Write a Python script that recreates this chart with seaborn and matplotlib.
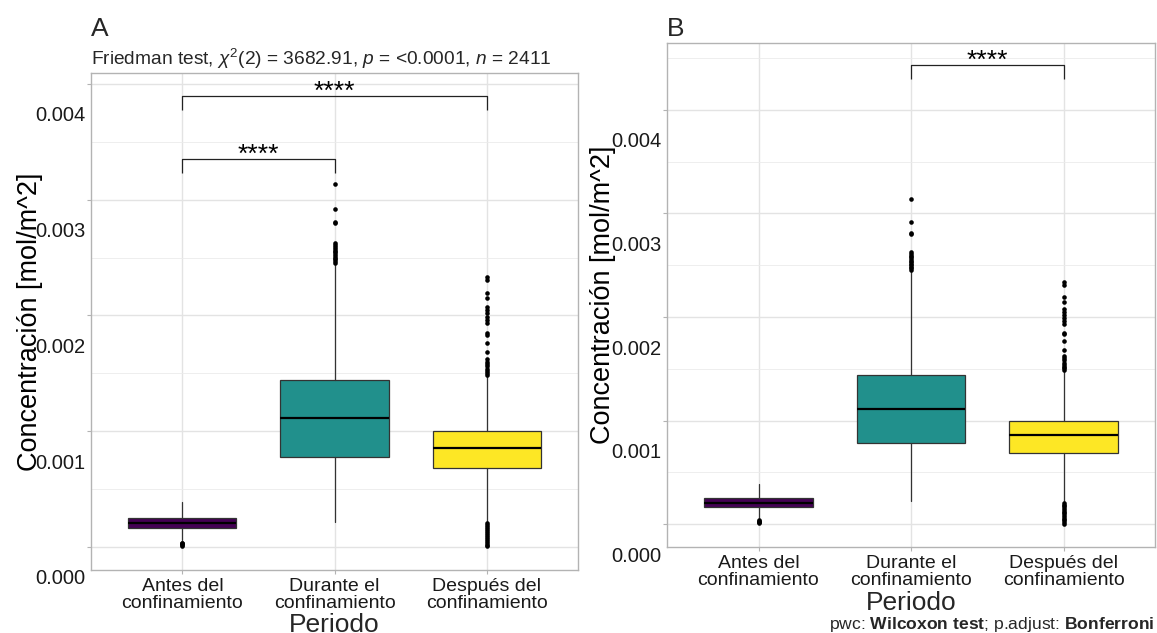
import numpy as np
import pandas as pd
import matplotlib
matplotlib.use("Agg")
import matplotlib.pyplot as plt
import seaborn as sns

# ---- data (mol/m^2) ----
periodos = ["Antes del\nconfinamiento", "Durante el\nconfinamiento", "Después del\nconfinamiento"]
colores = ["#440154", "#21908C", "#FDE725"]

q1 = [0.000160, 0.000780, 0.000685]
mediana = [0.000205, 0.001112, 0.000857]
q3 = [0.000250, 0.001442, 0.000998]
bigote_inf = [0.000060, 0.000218, 0.000215]
bigote_sup = [0.000387, 0.002440, 0.001475]

atipicos_antes = [0.000036, 0.000030, 0.000024, 0.000018, 0.000012]
atipicos_durante = [0.003136, 0.002917, 0.002810, 0.002798,
                    0.002624, 0.002605, 0.002590, 0.002575, 0.002560,
                    0.002545, 0.002530, 0.002515, 0.002500, 0.002485,
                    0.002470, 0.002455]
atipicos_despues = [0.002335, 0.002307, 0.002197, 0.002149, 0.002076,
                    0.002048, 0.002019, 0.001990, 0.001961, 0.001932,
                    0.001846, 0.001832, 0.001765, 0.001682, 0.001622,
                    0.001600, 0.001580, 0.001560, 0.001540, 0.001520,
                    0.001505, 0.001490,
                    0.000205, 0.000188, 0.000171, 0.000154, 0.000137,
                    0.000120, 0.000103, 0.000086, 0.000069, 0.000052,
                    0.000035, 0.000018, 0.000005]

subtitulo = (r"Friedman test, $\chi^2$(2) = 3682.91, $p$ = <0.0001, "
             r"$n$ = 2411")
pie = r"pwc: $\bf{Wilcoxon\ test}$; p.adjust: $\bf{Bonferroni}$"
ylab = "Concentración [mol/m^2]"
xlab = "Periodo"
yticks = [0.000, 0.001, 0.002, 0.003, 0.004]
yticks_menores = [0.0005, 0.0015, 0.0025, 0.0035, 0.0045]

# ---- style ----
sns.set_theme(style="whitegrid")
plt.rcParams["font.family"] = ["Liberation Sans", "DejaVu Sans"]
plt.rcParams["mathtext.fontset"] = "custom"
plt.rcParams["mathtext.rm"] = "Liberation Sans"
plt.rcParams["mathtext.it"] = "Liberation Sans:italic"
plt.rcParams["mathtext.bf"] = "Liberation Sans:bold"

W, H = 1157, 633
fig = plt.figure(figsize=(W / 100, H / 100), dpi=100)
fig.patch.set_facecolor("white")

atipicos = pd.DataFrame({
    "Periodo": [periodos[0]] * len(atipicos_antes)
               + [periodos[1]] * len(atipicos_durante)
               + [periodos[2]] * len(atipicos_despues),
    "valor": atipicos_antes + atipicos_durante + atipicos_despues,
})


def panel(rect, ylim, brackets, ylab_x):
    ax = fig.add_axes(rect)
    ax.set_facecolor("white")
    ax.set_axisbelow(True)

    stats = [dict(q1=q1[i], med=mediana[i], q3=q3[i],
                  whislo=bigote_inf[i], whishi=bigote_sup[i], fliers=[])
             for i in range(3)]
    bp = ax.bxp(stats, positions=[0, 1, 2], widths=0.71, patch_artist=True,
                showfliers=False, showcaps=False,
                boxprops=dict(edgecolor="#333333", linewidth=0.9),
                medianprops=dict(color="black", linewidth=1.6),
                whiskerprops=dict(color="#333333", linewidth=0.9))
    for patch, c in zip(bp["boxes"], colores):
        patch.set_facecolor(c)

    sns.stripplot(data=atipicos, x="Periodo", y="valor", order=periodos,
                  jitter=False, color="black", size=3.3, linewidth=0, ax=ax)

    ax.set_xticks([0, 1, 2])
    ax.set_xticklabels(periodos, fontsize=14, color="#1a1a1a", linespacing=1.0)
    ax.set_yticks(yticks)
    ax.set_yticks(yticks_menores, minor=True)
    ax.set_yticklabels([])
    ax.set_xlim(-0.6, 2.6)
    ax.set_ylim(*ylim)

    ax.grid(True, which="major", axis="both", color="#E3E3E3", linewidth=1.0)
    ax.grid(True, which="minor", axis="y", color="#EBEBEB", linewidth=0.6)
    ax.tick_params(axis="both", which="major", length=3, width=0.8,
                   color="#B3B3B3", pad=2.5, left=True, bottom=True)
    ax.tick_params(axis="y", which="minor", length=0)
    for s in ax.spines.values():
        s.set_color("#B3B3B3")
        s.set_linewidth(1.0)

    # y tick labels sit below their tick positions
    for v in yticks:
        ax.annotate(f"{v:.3f}", xy=(0, v), xycoords=("axes fraction", "data"),
                    xytext=(-6, -32), textcoords="offset pixels",
                    ha="right", va="center", fontsize=14.5, color="#1a1a1a",
                    annotation_clip=False)

    ax.set_xlabel("")
    ax.set_ylabel("")
    ax.text(ylab_x, 0.5, ylab, transform=ax.transAxes, rotation=90,
            ha="center", va="center", fontsize=19.5, color="black")

    for x1, x2, ytop, yleg in brackets:
        ax.plot([x1, x1, x2, x2], [yleg, ytop, ytop, yleg], color="#222222",
                linewidth=0.9, solid_capstyle="butt")
        ax.annotate("****", xy=((x1 + x2) / 2, ytop), xytext=(0, -8),
                    textcoords="offset pixels", ha="center", va="bottom",
                    fontsize=19, color="black")
    return ax


axA = panel([91 / W, 1 - 570 / H, 487 / W, 497 / H],
            (-0.000199, 0.004095),
            [(0, 2, 0.003896, 0.003775), (0, 1, 0.003352, 0.003234)],
            -0.125)
axB = panel([667 / W, 1 - 547 / H, 488 / W, 504.3 / H],
            (-0.000222, 0.004650),
            [(1, 2, 0.004435, 0.004300)],
            -0.131)

# panel tags, subtitle, axis titles and caption
fig.text(91 / W, 1 - 36 / H, "A", fontsize=19, ha="left", va="baseline")
fig.text(667 / W, 1 - 36 / H, "B", fontsize=19, ha="left", va="baseline")
fig.text(91 / W, 1 - 65 / H, subtitulo, fontsize=13.8, ha="left", va="baseline")
fig.text(334 / W, 1 - 632 / H, xlab, fontsize=19, ha="center", va="baseline")
fig.text(911 / W, 1 - 610 / H, xlab, fontsize=19, ha="center", va="baseline")
fig.text(1155 / W, 1 - 629 / H, pie, fontsize=12.6, ha="right", va="baseline")

fig.savefig("out.png", dpi=100, facecolor="white")
